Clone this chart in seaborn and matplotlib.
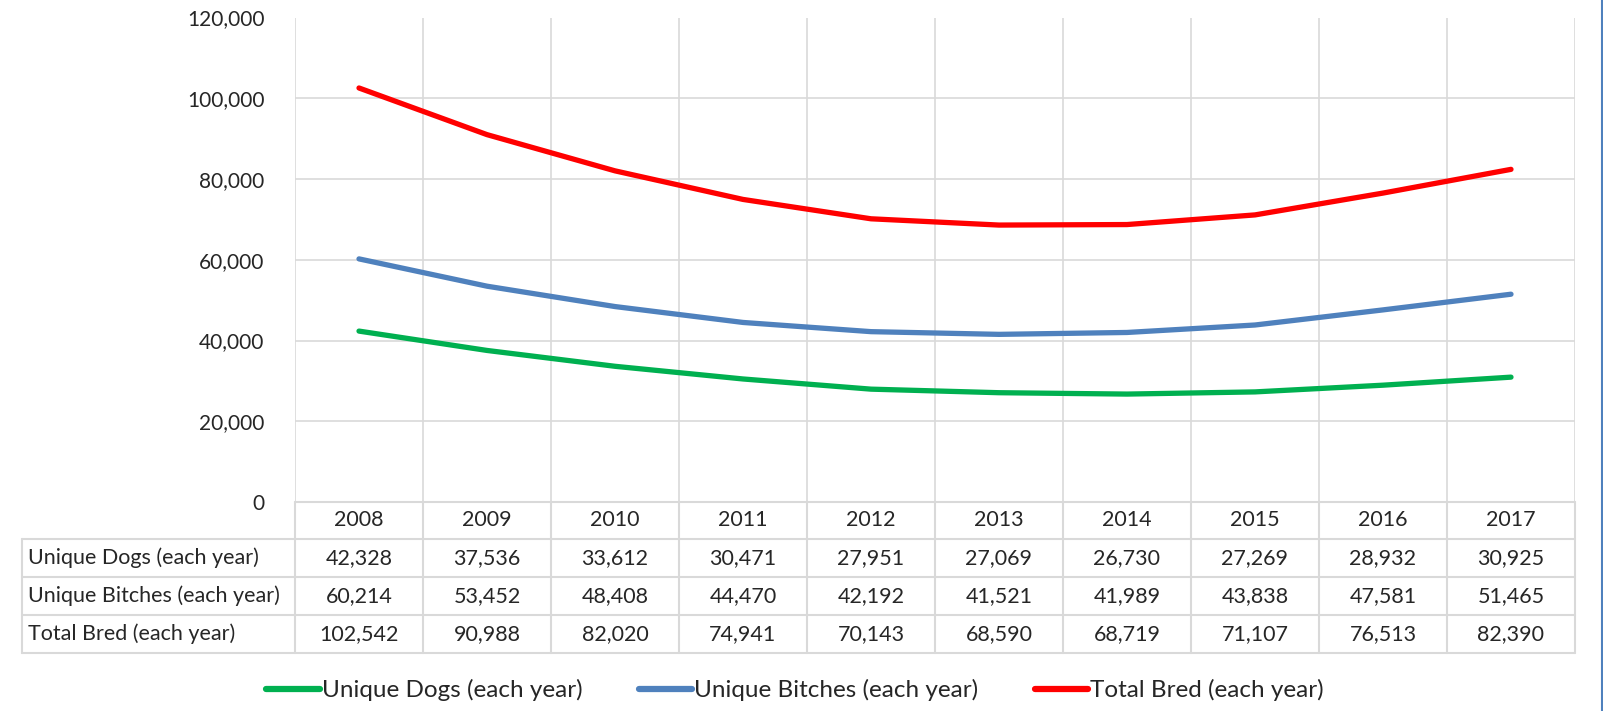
import numpy as np
import pandas as pd
import matplotlib
matplotlib.use("Agg")
import matplotlib.pyplot as plt
from matplotlib.lines import Line2D
import seaborn as sns

# data
years = ['2008', '2009', '2010', '2011', '2012', '2013', '2014', '2015', '2016', '2017']
dogs = [42328, 37536, 33612, 30471, 27951, 27069, 26730, 27269, 28932, 30925]
bitches = [60214, 53452, 48408, 44470, 42192, 41521, 41989, 43838, 47581, 51465]
total = [102542, 90988, 82020, 74941, 70143, 68590, 68719, 71107, 76513, 82390]
series_names = ['Unique Dogs (each year)', 'Unique Bitches (each year)', 'Total Bred (each year)']
series_vals = [dogs, bitches, total]
colors = ['#00B050', '#4F81BD', '#FF0000']
yticks = [0, 20000, 40000, 60000, 80000, 100000, 120000]

sns.set_style('white')
plt.rcParams['font.family'] = ['Lato', 'DejaVu Sans']

W, H = 1603, 711
fig = plt.figure(figsize=(W / 100, H / 100), dpi=100)

# pixel layout
px_left, px_right = 295, 1575
px_top, px_zero = 17.5, 502
colw = (px_right - px_left) / len(years)
grid_c = '#d9d9d9'

ax = fig.add_axes([px_left / W, 1 - px_zero / H, (px_right - px_left) / W, (px_zero - px_top) / H])

rows = []
for name, vals in zip(series_names, series_vals):
    for i, v in enumerate(vals):
        rows.append({'x': i, 'value': v, 'series': name})
df = pd.DataFrame(rows)

sns.lineplot(data=df, x='x', y='value', hue='series', palette=colors,
             linewidth=3.8, ax=ax, legend=False, zorder=3)

ax.set_xlim(-0.5, len(years) - 0.5)
ax.set_ylim(0, 120000)
ax.set_yticks(yticks)
ax.set_yticklabels([f'{v:,}' for v in yticks], fontsize=15)
ax.tick_params(axis='y', length=0, pad=22)
ax.set_xticks([])
ax.set_xlabel('')
ax.set_ylabel('')
for y in yticks:
    ax.axhline(y, color=grid_c, lw=1.2, zorder=1)
for x in np.arange(-0.5, len(years), 1.0):
    ax.axvline(x, color=grid_c, lw=1.2, zorder=1)
for s in ax.spines.values():
    s.set_visible(False)

# data table underneath
px_tleft = 22
px_tbot = 652.5
row_edges = [502, 539, 577, 615, 652.5]
tax = fig.add_axes([px_tleft / W, 1 - px_tbot / H, (px_right - px_tleft) / W, (px_tbot - px_zero) / H])
x_lab = -0.5 - (px_left - px_tleft) / colw
tax.set_xlim(x_lab, len(years) - 0.5)
tax.set_ylim(px_tbot, px_zero)
tax.axis('off')

# vertical lines
for x in np.arange(-0.5, len(years), 1.0):
    tax.plot([x, x], [row_edges[0], row_edges[-1]], color=grid_c, lw=1.5, clip_on=False)
tax.plot([x_lab, x_lab], [row_edges[1], row_edges[-1]], color=grid_c, lw=1.5, clip_on=False)
# horizontal lines
tax.plot([-0.5, len(years) - 0.5], [row_edges[0], row_edges[0]], color=grid_c, lw=1.5, clip_on=False)
for y in row_edges[1:]:
    tax.plot([x_lab, len(years) - 0.5], [y, y], color=grid_c, lw=1.5, clip_on=False)

fs = 15.5
for i, yr in enumerate(years):
    tax.text(i, (row_edges[0] + row_edges[1]) / 2, yr, ha='center', va='center', fontsize=fs)
for r, (name, vals) in enumerate(zip(series_names, series_vals)):
    yc = (row_edges[r + 1] + row_edges[r + 2]) / 2
    tax.text(x_lab + 0.045, yc, name, ha='left', va='center', fontsize=fs)
    for i, v in enumerate(vals):
        tax.text(i, yc, f'{v:,}', ha='center', va='center', fontsize=fs)

# legend
handles = [Line2D([0], [0], color=c, lw=4.5) for c in colors]
fig.legend(handles, series_names, loc='center', bbox_to_anchor=(0.496, 1 - 690 / H),
           ncol=3, frameon=False, fontsize=17.5, handlelength=2.2, handletextpad=0.1,
           columnspacing=2.3)

# blue edge line at right
fig.add_artist(Line2D([1601.5 / W, 1601.5 / W], [0, 1], color='#4F81BD', lw=1.5,
                      transform=fig.transFigure))

fig.savefig('out.png', dpi=100)
